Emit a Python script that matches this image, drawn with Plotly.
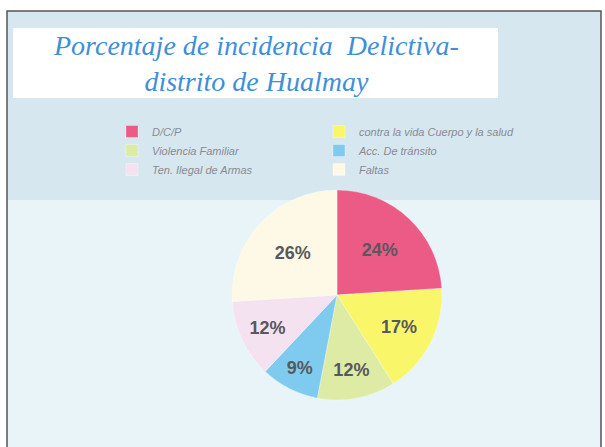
import plotly.graph_objects as go

# Data
categories = ["D/C/P", "contra la vida Cuerpo y la salud", "Violencia Familiar",
              "Acc. De tránsito", "Ten. Ilegal de Armas", "Faltas"]
values = [24, 17, 12, 9, 12, 26]
slice_colors = ["#EC5B86", "#FAF66A", "#DDEBA4", "#7FCBF0", "#F4E2F1", "#FDF9E6"]

title_lines = ["Porcentaje de incidencia  Delictiva-", "distrito de Hualmay"]

W, H = 605, 447

def px(x):
    return x / W

def py(y):
    return 1 - y / H

fig = go.Figure()
fig.add_trace(go.Pie(
    labels=categories,
    values=values,
    sort=False,
    direction="clockwise",
    rotation=0,
    marker=dict(colors=slice_colors, line=dict(color="rgba(255,255,255,0.6)", width=0.5)),
    texttemplate="%{value}%",
    textposition="inside",
    insidetextorientation="horizontal",
    textfont=dict(family="Liberation Sans", size=18, color="#58585e", weight="bold"),
    domain=dict(x=[px(232), px(442)], y=[py(400), py(190)]),
    hoverinfo="label+percent",
))

shapes = [
    # chart panel
    dict(type="rect", xref="paper", yref="paper", x0=px(7), x1=px(601), y0=py(452), y1=py(11),
         fillcolor="#d6e7f0", line=dict(color="#555555", width=1.5), layer="below"),
    # lower lighter band
    dict(type="rect", xref="paper", yref="paper", x0=px(8), x1=px(600), y0=py(451), y1=py(200),
         fillcolor="#e8f4f8", line=dict(width=0), layer="below"),
    # title box
    dict(type="rect", xref="paper", yref="paper", x0=px(13), x1=px(498), y0=py(98), y1=py(28),
         fillcolor="#ffffff", line=dict(width=0), layer="below"),
]

fig.add_annotation(
    x=px(256), y=py(63), xref="paper", yref="paper", showarrow=False,
    xanchor="center", yanchor="middle",
    text="<br>".join(title_lines), align="center",
    font=dict(family="Liberation Serif", size=28, color="#3f8fd8", style="italic"),
)

fig.update_layout(
    width=W, height=H,
    margin=dict(l=0, r=0, t=0, b=0, autoexpand=False),
    paper_bgcolor="#ffffff",
    plot_bgcolor="#ffffff",
    shapes=shapes,
    showlegend=True,
    legend=dict(
        orientation="h", xref="container", yref="container",
        x=px(112), y=py(117), xanchor="left", yanchor="top",
        entrywidth=162, entrywidthmode="pixels",
        font=dict(family="Liberation Sans", size=11, color="#8a8a92", style="italic"),
        bgcolor="rgba(0,0,0,0)", itemwidth=30, tracegroupgap=0,
    ),
)

fig.write_html("out.html", post_script="document.body.style.margin='0';",
               config={"displayModeBar": False})
